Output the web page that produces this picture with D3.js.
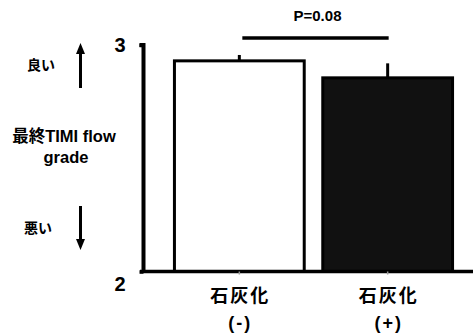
<!DOCTYPE html>
<html lang="ja">
<head>
<meta charset="UTF-8">
<script src="https://d3js.org/d3.v7.min.js"></script>
<style>
  body { margin: 0; padding: 0; background: #fff; }
  svg { display: block; font-family: "Liberation Sans", Arial, "Noto Sans CJK JP", sans-serif; font-weight: bold; }
</style>
</head>
<body>
<div id="chart"></div>
<script>
const categories = ["石灰化\n(-)", "石灰化\n(+)"];
const means = [2.93, 2.855];
const errors = [0.026, 0.064];
const fills = ["#ffffff", "#111111"];
const yTicks = [2, 3];
const pLabel = "P=0.08";

const width = 473, height = 333;
const svg = d3.select("#chart").append("svg")
  .attr("width", width).attr("height", height);

const x = d3.scaleBand()
  .domain(categories)
  .range([143, 484])
  .paddingInner(0.125)
  .paddingOuter(0.212);

const y = d3.scaleLinear().domain([2, 3]).range([271.5, 45]);

// bars
svg.append("g").selectAll("rect")
  .data(categories)
  .join("rect")
  .attr("x", d => x(d))
  .attr("y", (d, i) => y(means[i]))
  .attr("width", x.bandwidth())
  .attr("height", (d, i) => y(2) - y(means[i]))
  .attr("fill", (d, i) => fills[i])
  .attr("stroke", "#000")
  .attr("stroke-width", 3);

// error bars (upper only)
svg.append("g").selectAll("line")
  .data(categories)
  .join("line")
  .attr("x1", d => x(d) + x.bandwidth() / 2)
  .attr("x2", d => x(d) + x.bandwidth() / 2)
  .attr("y1", (d, i) => y(means[i]))
  .attr("y2", (d, i) => y(means[i] + errors[i]))
  .attr("stroke", "#000")
  .attr("stroke-width", 3);

// y axis
const yAxis = svg.append("g")
  .attr("transform", "translate(143.5,0)")
  .call(d3.axisLeft(y).tickValues(yTicks).tickSize(4).tickPadding(14).tickFormat(d3.format("d")));
yAxis.select(".domain").attr("d", `M-4,${y(3)}H0V${y(2)}`).attr("stroke-width", 4);
yAxis.selectAll(".tick line").attr("stroke-width", 3.5);
yAxis.selectAll(".tick text")
  .attr("font-size", 20)
  .attr("fill", "#000")
  .attr("dy", d => d === 2 ? "0.95em" : "0.3em");

// x axis
const xAxis = svg.append("g")
  .attr("transform", `translate(0,${y(2)})`)
  .call(d3.axisBottom(x).tickSize(3).tickFormat(""));
xAxis.select(".domain").attr("d", `M140,0H${width}`).attr("stroke-width", 3.5);
xAxis.selectAll(".tick line").attr("stroke", "#999").attr("stroke-width", 1.5);

// category labels
const catG = svg.append("g").selectAll("text")
  .data(categories)
  .join("text")
  .attr("text-anchor", "middle")
  .attr("font-size", 18)
  .attr("letter-spacing", 2)
  .attr("fill", "#000");
catG.each(function (d) {
  const cx = x(d) + x.bandwidth() / 2;
  d.split("\n").forEach((line, k) => {
    d3.select(this).append("tspan")
      .attr("x", cx + 1)
      .attr("y", 302 + k * 27)
      .text(line);
  });
});

// significance bracket
const cx0 = x(categories[0]) + x.bandwidth() / 2;
const cx1 = x(categories[1]) + x.bandwidth() / 2;
svg.append("line")
  .attr("x1", cx0 + 3).attr("x2", cx1 + 1)
  .attr("y1", 38).attr("y2", 38)
  .attr("stroke", "#000").attr("stroke-width", 3.5);
svg.append("text")
  .attr("x", (cx0 + cx1) / 2 + 4).attr("y", 21)
  .attr("text-anchor", "middle")
  .attr("font-size", 15)
  .text(pLabel);

// y axis title
const yTitle = svg.append("text")
  .attr("text-anchor", "middle")
  .attr("font-size", 16.5);
yTitle.append("tspan").attr("x", 64).attr("y", 142).text("最終TIMI flow");
yTitle.append("tspan").attr("x", 66).attr("y", 163).text("grade");

svg.append("text").attr("x", 41).attr("y", 70)
  .attr("text-anchor", "middle").attr("font-size", 14).text("良い");
svg.append("text").attr("x", 38).attr("y", 233)
  .attr("text-anchor", "middle").attr("font-size", 14).text("悪い");

// arrows
svg.append("line").attr("x1", 80.5).attr("x2", 80.5).attr("y1", 88).attr("y2", 52)
  .attr("stroke", "#000").attr("stroke-width", 3);
svg.append("path").attr("d", "M80.5,43L85,54H76Z").attr("fill", "#000");
svg.append("line").attr("x1", 80.5).attr("x2", 80.5).attr("y1", 206).attr("y2", 240)
  .attr("stroke", "#000").attr("stroke-width", 3);
svg.append("path").attr("d", "M80.5,250L85,239H76Z").attr("fill", "#000");
</script>
</body>
</html>
